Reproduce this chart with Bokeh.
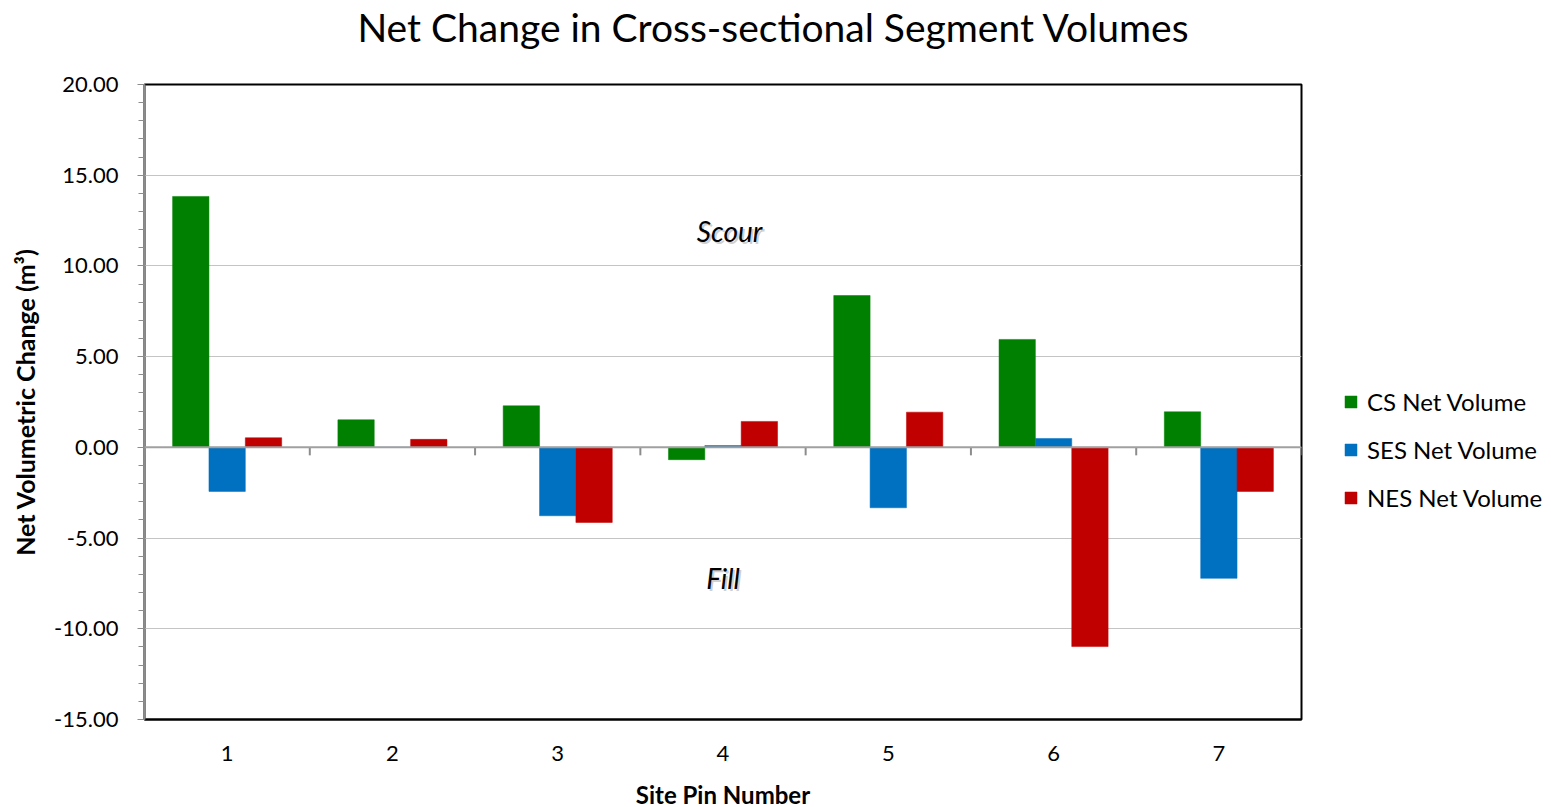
from bokeh.plotting import figure
from bokeh.layouts import column
from bokeh.models import (Range1d, Legend, LegendItem, Label, Div, FixedTicker,
                          NumeralTickFormatter, ColumnDataSource, Span)
from bokeh.transform import dodge
from bokeh.embed import file_html
from bokeh.resources import INLINE

# ---- data ----
pins = [1, 2, 3, 4, 5, 6, 7]
pin_labels = ["1", "2", "3", "4", "5", "6", "7"]
cs_net = [13.83, 1.52, 2.29, -0.68, 8.37, 5.95, 1.96]
ses_net = [-2.43, 0.00, -3.77, 0.10, -3.33, 0.49, -7.22]
nes_net = [0.53, 0.44, -4.14, 1.43, 1.94, -10.98, -2.43]
series_names = ["CS Net Volume", "SES Net Volume", "NES Net Volume"]
series_colors = ["#008000", "#0070C0", "#C00000"]
y_ticks = [-15, -10, -5, 0, 5, 10, 15, 20]
title_text = "Net Change in Cross-sectional Segment Volumes"

FONT = "Lato"
TITLE_H = 50

src = ColumnDataSource(dict(pin=pins, cs=cs_net, ses=ses_net, nes=nes_net))

p = figure(output_backend="svg", toolbar_location=None,
           frame_width=1157, frame_height=635,
           min_border_left=144, min_border_right=242,
           min_border_top=84 - TITLE_H, min_border_bottom=80,
           x_range=Range1d(0.5, 7.5), y_range=Range1d(-15, 20))
p.width = 1543
p.height = 799 - TITLE_H

title_div = Div(text=title_text, width=1543, height=TITLE_H, margin=0,
                styles={"font-family": FONT, "font-size": "39px", "line-height": "54px",
                        "text-align": "center", "color": "#000000", "white-space": "nowrap",
                        "padding-left": "3px", "box-sizing": "border-box"})

# grid
p.xgrid.visible = False
p.ygrid.ticker = FixedTicker(ticks=y_ticks)
p.ygrid.grid_line_color = "#c4c4c4"
p.ygrid.grid_line_width = 1

p.outline_line_color = "#000000"
p.outline_line_width = 2
p.background_fill_color = "white"
p.border_fill_color = "white"

# bars
w = 0.22
offsets = [-0.22, 0.0, 0.22]
fields = ["cs", "ses", "nes"]
renderers = []
for f, off, col in zip(fields, offsets, series_colors):
    r = p.vbar(x=dodge("pin", off, range=p.x_range), top=f, bottom=0, width=w,
               source=src, fill_color=col, line_color=col, line_width=0.5)
    renderers.append(r)

# zero line and its tick marks between categories
p.add_layout(Span(location=0, dimension="width", line_color="#a0a0a0", line_width=2))
bounds = [x - 0.5 for x in pins] + [pins[-1] + 0.5]
p.segment(x0=bounds, y0=[0] * len(bounds), x1=bounds, y1=[-0.44] * len(bounds),
          line_color="#8c8c8c", line_width=2)

# y axis
ya = p.yaxis[0]
ya.ticker = FixedTicker(ticks=y_ticks, minor_ticks=list(range(-15, 21)))
ya.formatter = NumeralTickFormatter(format="0.00")
ya.axis_line_color = "#8c8c8c"
ya.axis_line_width = 2
ya.major_tick_line_color = "#8c8c8c"
ya.minor_tick_line_color = "#8c8c8c"
ya.major_tick_out = 7
ya.major_tick_in = 0
ya.minor_tick_out = 6
ya.minor_tick_in = 0
ya.major_label_standoff = 19
ya.major_label_text_font = FONT
ya.major_label_text_font_size = "22px"
ya.major_label_text_color = "#000000"
ya.axis_label = "Net Volumetric Change (m³)"
ya.axis_label_text_font = FONT
ya.axis_label_text_font_size = "25px"
ya.axis_label_text_font_style = "bold"
ya.axis_label_text_color = "#000000"
ya.axis_label_standoff = 11

# x axis
xa = p.xaxis[0]
xa.ticker = FixedTicker(ticks=pins)
xa.major_label_overrides = {x: s for x, s in zip(pins, pin_labels)}
xa.axis_line_color = "#000000"
xa.axis_line_width = 2
xa.major_tick_line_color = None
xa.minor_tick_line_color = None
xa.major_tick_out = 0
xa.major_label_standoff = 26
xa.major_label_text_font = FONT
xa.major_label_text_font_size = "22px"
xa.major_label_text_color = "#000000"
xa.axis_label = "Site Pin Number"
xa.axis_label_text_font = FONT
xa.axis_label_text_font_size = "24px"
xa.axis_label_text_font_style = "bold"
xa.axis_label_text_color = "#000000"
xa.axis_label_standoff = 16

# Scour / Fill annotations with soft shadow
for txt, xx, yy in [("Scour", 4.04, 11.9), ("Fill", 4.0, -7.2)]:
    p.add_layout(Label(x=xx, y=yy, text=txt, text_font=FONT, text_font_size="28px",
                       text_font_style="italic", text_color="#b0b0b0", text_alpha=0.6,
                       text_align="center", text_baseline="middle",
                       x_offset=2, y_offset=-2))
    p.add_layout(Label(x=xx, y=yy, text=txt, text_font=FONT, text_font_size="28px",
                       text_font_style="italic", text_color="#000000",
                       text_align="center", text_baseline="middle"))

# legend
legend = Legend(items=[LegendItem(label=n, renderers=[r]) for n, r in zip(series_names, renderers)],
                location=(42, 207), orientation="vertical",
                label_text_font=FONT, label_text_font_size="24px", label_text_color="#000000",
                glyph_width=15, glyph_height=15, label_height=24, spacing=19,
                label_standoff=9, padding=0, margin=0,
                border_line_color=None, background_fill_alpha=0)
p.add_layout(legend, "right")

layout = column(title_div, p, spacing=0)
open("out.html", "w").write(file_html(layout, INLINE))
